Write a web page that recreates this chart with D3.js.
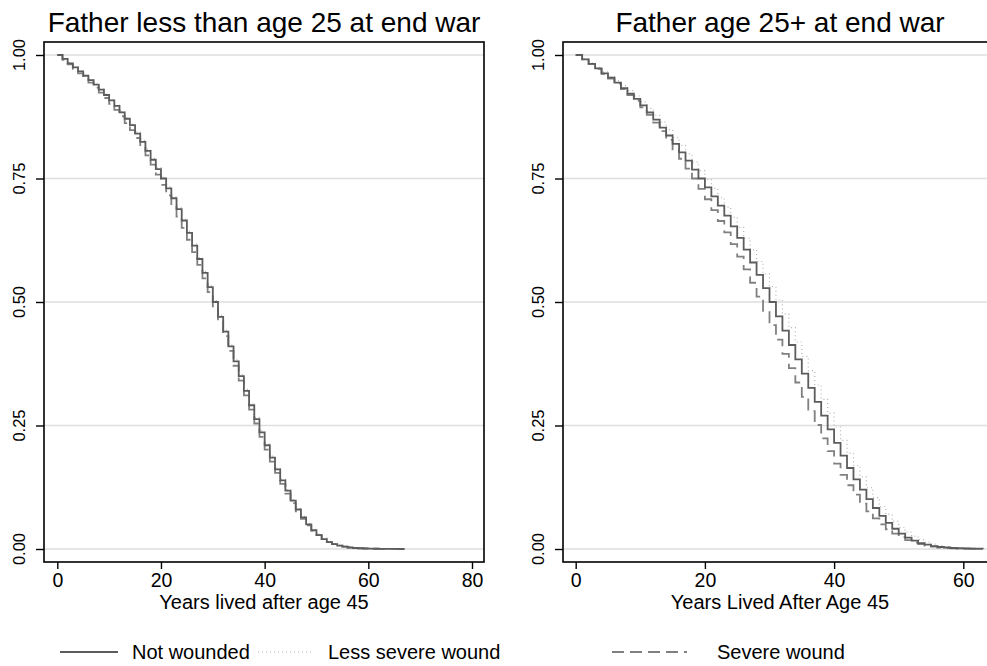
<!DOCTYPE html>
<meta charset="utf-8">
<style>
body{ margin:0; background:#fff; }
svg{ display:block; font-family:"Liberation Sans", Arial, sans-serif; }
.grid line{ stroke:#dedede; stroke-width:1.5px; }
.frame{ fill:none; stroke:#000; stroke-width:1.6px; }
.tick line{ stroke:#000; stroke-width:1.4px; }
text{ fill:#000; }
.title{ font-size:28px; }
.axtitle{ font-size:20px; }
.legend-name{ font-size:20px; }
</style>
<body>
<script src="https://cdnjs.cloudflare.com/ajax/libs/d3/7.8.5/d3.min.js"></script>
<script>
// years after age 45
var years = [0,1,2,3,4,5,6,7,8,9,10,11,12,13,14,15,16,17,18,19,20,21,22,23,24,25,26,27,28,29,
  30,31,32,33,34,35,36,37,38,39,40,41,42,43,44,45,46,47,48,49,50,51,52,53,54,55,56,57,58,59,
  60,61,62,63,64,65,66,67];

var seriesNames = ["Not wounded", "Less severe wound", "Severe wound"];

// father < 25 at end of war
var youngNot = [1.000,0.992,0.983,0.975,0.967,0.958,0.949,0.940,0.930,0.919,
  0.908,0.897,0.884,0.871,0.858,0.841,0.824,0.806,0.788,0.769,
  0.750,0.730,0.710,0.688,0.665,0.640,0.614,0.587,0.559,0.530,
  0.500,0.470,0.440,0.410,0.380,0.350,0.320,0.291,0.263,0.236,
  0.210,0.185,0.161,0.139,0.118,0.098,0.080,0.064,0.050,0.038,
  0.028,0.020,0.014,0.010,0.007,0.005,0.003,0.002,0.0015,0.001,
  0.0007,0.0005,0.0003,0.0002,0.0001,0.0001,0,0];
var youngLess = [1.000,0.992,0.984,0.976,0.968,0.959,0.950,0.941,0.931,0.921,
  0.910,0.898,0.886,0.873,0.860,0.844,0.827,0.809,0.791,0.772,
  0.753,0.733,0.713,0.691,0.668,0.643,0.617,0.590,0.562,0.533,
  0.503,0.473,0.443,0.413,0.383,0.353,0.323,0.294,0.266,0.239,
  0.213,0.188,0.164,0.141,0.120,0.100,0.082,0.066,0.052,0.040,
  0.030,0.022,0.015,0.011,0.008,0.005,0.004,0.003,0.002,0.0012,
  0.0008,0.0005,0.0003,0.0002,0.0001,0.0001,0,0];
var youngSev = [1.000,0.990,0.981,0.972,0.963,0.954,0.944,0.934,0.924,0.913,
  0.901,0.889,0.876,0.862,0.848,0.832,0.815,0.797,0.778,0.758,
  0.737,0.716,0.695,0.673,0.650,0.626,0.601,0.575,0.548,0.520,
  0.491,0.461,0.431,0.401,0.371,0.341,0.311,0.282,0.254,0.227,
  0.201,0.177,0.154,0.132,0.112,0.093,0.076,0.061,0.048,0.037,
  0.028,0.020,0.014,0.010,0.007,0.005,0.003,0.002,0.0015,0.001,
  0.0007,0.0005,0.0003,0.0002,0.0001,0.0001,0,0];

// father 25+ at end of war
var oldNot = [1.000,0.991,0.982,0.973,0.963,0.954,0.944,0.933,0.922,0.911,
  0.898,0.884,0.869,0.853,0.837,0.820,0.803,0.786,0.768,0.750,
  0.732,0.714,0.695,0.675,0.653,0.630,0.606,0.580,0.555,0.528,
  0.500,0.471,0.442,0.413,0.384,0.355,0.326,0.298,0.270,0.242,
  0.215,0.189,0.164,0.141,0.120,0.101,0.083,0.067,0.053,0.041,
  0.031,0.023,0.017,0.012,0.009,0.006,0.004,0.003,0.002,0.0015,
  0.001,0.0007,0.0005,0.0003];
var oldLess = [1.000,0.992,0.984,0.975,0.966,0.957,0.948,0.938,0.928,0.917,
  0.905,0.892,0.878,0.864,0.849,0.833,0.817,0.800,0.783,0.766,
  0.748,0.730,0.711,0.692,0.672,0.651,0.629,0.606,0.582,0.557,
  0.531,0.504,0.476,0.448,0.419,0.390,0.361,0.332,0.303,0.275,
  0.247,0.220,0.194,0.169,0.146,0.124,0.104,0.086,0.070,0.056,
  0.044,0.034,0.026,0.019,0.014,0.010,0.007,0.005,0.003,0.002,
  0.0015,0.001,0.0007,0.0004];
var oldSev = [1.000,0.991,0.982,0.972,0.962,0.952,0.942,0.931,0.919,0.907,
  0.894,0.879,0.863,0.846,0.828,0.809,0.790,0.770,0.750,0.729,
  0.708,0.686,0.664,0.641,0.617,0.592,0.566,0.539,0.511,0.482,
  0.453,0.424,0.395,0.366,0.337,0.308,0.279,0.251,0.224,0.198,
  0.173,0.150,0.129,0.110,0.092,0.076,0.062,0.050,0.040,0.031,
  0.024,0.018,0.013,0.010,0.007,0.005,0.003,0.002,0.0015,0.001,
  0.0007,0.0005,0.0003,0.0002];

var yTicks = [0, 0.25, 0.5, 0.75, 1];

var width = 987, height = 666;

var svg = d3.select("body").append("svg")
    .attr("width", width)
    .attr("height", height);

// line styles for the three groups
var styles = [
  {stroke:"#5c5c5c", width:1.8, dash:null},
  {stroke:"#b4b4b4", width:1.2, dash:"1,3"},
  {stroke:"#808080", width:1.8, dash:"12,6"}
];

var panels = [
  {title:"Father less than age 25 at end war", xlab:"Years lived after age 45",
   left:44, right:484, xdom:[0,80], xrange:[57.3,472], xticks:[0,20,40,60,80],
   series:[youngNot, youngLess, youngSev]},
  {title:"Father age 25+ at end war", xlab:"Years Lived After Age 45",
   left:563, right:997, xdom:[0,60], xrange:[575.7,963.3], xticks:[0,20,40,60],
   series:[oldNot, oldLess, oldSev]}
];

var plotTop = 42, plotBottom = 562;
var y = d3.scaleLinear().domain([0,1]).range([549,55]);

panels.forEach(function(p, pi){
  var x = d3.scaleLinear().domain(p.xdom).range(p.xrange);
  var g = svg.append("g");

  g.append("clipPath").attr("id","clip"+pi)
    .append("rect")
      .attr("x", p.left).attr("y", plotTop)
      .attr("width", p.right - p.left).attr("height", plotBottom - plotTop);

  // horizontal grid
  g.append("g").attr("class","grid")
    .selectAll("line").data(yTicks).enter().append("line")
      .attr("x1", p.left).attr("x2", p.right)
      .attr("y1", d => y(d)).attr("y2", d => y(d));

  // curves, dashed first then dotted then solid on top
  var line = d3.line()
      .x(d => x(d[0]))
      .y(d => y(d[1]))
      .curve(d3.curveStepAfter);

  [2,1,0].forEach(function(si){
    var vals = p.series[si];
    var pts = vals.map((v,i) => [years[i], v]);
    var s = styles[si];
    g.append("path")
      .datum(pts)
      .attr("clip-path","url(#clip"+pi+")")
      .attr("fill","none")
      .attr("stroke", s.stroke)
      .attr("stroke-width", s.width)
      .attr("stroke-dasharray", s.dash)
      .attr("d", line);
  });

  // frame
  g.append("rect").attr("class","frame")
    .attr("x", p.left).attr("y", plotTop)
    .attr("width", p.right - p.left).attr("height", plotBottom - plotTop);

  // y axis
  var yAxis = g.append("g").attr("transform","translate(" + p.left + ",0)")
    .call(d3.axisLeft(y).tickValues(yTicks).tickSize(8));
  yAxis.select(".domain").remove();
  yAxis.selectAll("text").remove();
  g.selectAll(".ylab").data(yTicks).enter().append("text")
    .attr("class","ylab")
    .attr("text-anchor","middle")
    .attr("transform", d => "translate(" + (p.left - 19) + "," + y(d) + ") rotate(-90)")
    .style("font-size","16.5px")
    .text(d => d3.format(".2f")(d));

  // x axis
  var xAxis = g.append("g").attr("transform","translate(0," + plotBottom + ")")
    .call(d3.axisBottom(x).tickValues(p.xticks).tickSize(7));
  xAxis.select(".domain").remove();
  xAxis.selectAll("text").attr("dy", null).attr("y", 25)
    .style("font-size","19.5px").style("font-family","inherit").attr("fill","#000");

  var cx = (p.left + p.right) / 2;
  g.append("text").attr("class","axtitle")
    .attr("x", cx).attr("y", 609).attr("text-anchor","middle")
    .text(p.xlab);

  g.append("text").attr("class","title")
    .attr("x", cx).attr("y", 32).attr("text-anchor","middle")
    .text(p.title);
});

// legend
var legendX = [[60,118,132],[258,313,328],[612,687,717]];
var leg = svg.selectAll(".legend").data(seriesNames).enter().append("g").attr("class","legend");
leg.append("line")
  .attr("x1", (d,i) => legendX[i][0]).attr("x2", (d,i) => legendX[i][1])
  .attr("y1", 652).attr("y2", 652)
  .attr("stroke", (d,i) => styles[i].stroke)
  .attr("stroke-width", (d,i) => styles[i].width)
  .attr("stroke-dasharray", (d,i) => styles[i].dash);
leg.append("text").attr("class","legend-name")
  .attr("x", (d,i) => legendX[i][2]).attr("y", 659)
  .text(d => d);
</script>
</body>
